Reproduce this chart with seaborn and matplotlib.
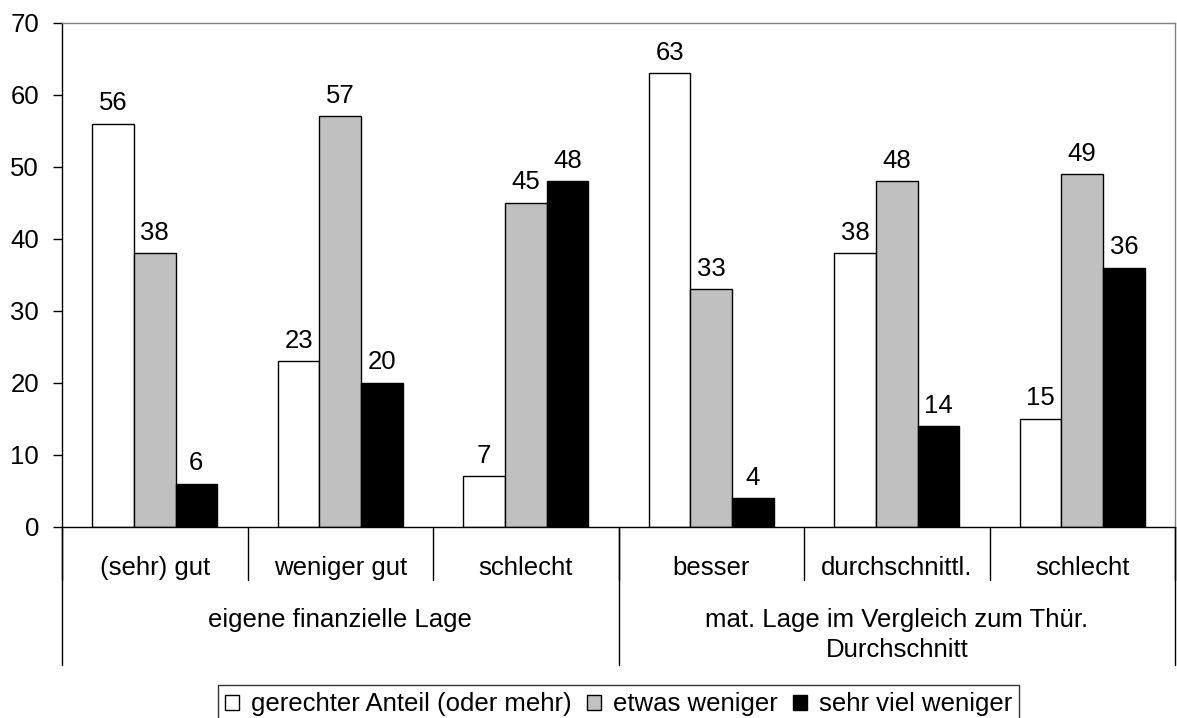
import matplotlib
matplotlib.use("Agg")
import matplotlib.pyplot as plt
import matplotlib.transforms as mtransforms
import seaborn as sns
import pandas as pd

categories = ["(sehr) gut", "weniger gut", "schlecht", "besser", "durchschnittl.", "schlecht"]
groups = ["eigene finanzielle Lage", "mat. Lage im Vergleich zum Thür.\nDurchschnitt"]
group_sizes = [3, 3]
series = ["gerechter Anteil (oder mehr)", "etwas weniger", "sehr viel weniger"]
gerecht = [56, 23, 7, 63, 38, 15]
etwas = [38, 57, 45, 33, 48, 49]
sehr_viel = [6, 20, 48, 4, 14, 36]
colors = ["#ffffff", "#c0c0c0", "#000000"]

keys = [f"{i}" for i in range(len(categories))]
rows = []
for s, vals in zip(series, [gerecht, etwas, sehr_viel]):
    for k, v in zip(keys, vals):
        rows.append({"cat": k, "series": s, "value": v})
df = pd.DataFrame(rows)

sns.set_style("white")
plt.rcParams["font.family"] = ["Liberation Sans", "DejaVu Sans"]
for k in ["text.color", "axes.labelcolor", "xtick.color", "ytick.color"]:
    plt.rcParams[k] = "black"

FS = 18.5
W, H = 1177, 718
fig = plt.figure(figsize=(W / 100, H / 100), dpi=100)
ax = fig.add_axes([62 / W, 1 - 526.7 / H, (1175 - 62) / W, (526.7 - 22.7) / H])

sns.barplot(data=df, x="cat", y="value", hue="series", order=keys, hue_order=series,
            palette=colors, edgecolor="black", linewidth=1, width=0.673, ax=ax,
            saturation=1, legend=True)

for cont in ax.containers:
    ax.bar_label(cont, padding=6, fontsize=FS, color="black")

ax.set_ylim(0, 70)
ax.set_yticks(range(0, 71, 10))
ax.tick_params(axis="y", labelsize=FS, length=6.5, width=1, color="black", left=True, pad=10)
ax.set_xticks([])
ax.set_xlabel("")
ax.set_ylabel("")
ax.set_xlim(-0.5, len(categories) - 0.5)
for name, sp in ax.spines.items():
    sp.set_linewidth(1)
    sp.set_color("black" if name in ("left", "bottom") else "#808080")

trans = mtransforms.blended_transform_factory(ax.transData, fig.transFigure)
y0 = 1 - 526.7 / H
y_sub = 1 - 580 / H
y_grp = 1 - 665 / H
for i in range(len(categories) + 1):
    xb = i - 0.5
    ax.plot([xb, xb], [y0, y_sub], transform=trans, color="black", lw=1, clip_on=False)
bounds = [0]
for g in group_sizes:
    bounds.append(bounds[-1] + g)
for b in bounds:
    xb = b - 0.5
    ax.plot([xb, xb], [y0, y_grp], transform=trans, color="black", lw=1, clip_on=False)

for i, c in enumerate(categories):
    ax.text(i, 1 - 575 / H, c, transform=trans, ha="center", va="baseline", fontsize=FS)

for gi, g in enumerate(groups):
    xc = (bounds[gi] + bounds[gi + 1] - 1) / 2
    for li, line in enumerate(g.split("\n")):
        ax.text(xc, 1 - (626.7 + 30 * li) / H, line, transform=trans, ha="center",
                va="baseline", fontsize=FS)

leg = ax.legend(loc="upper center", bbox_to_anchor=(618.5 / W, 1 - 684.7 / H),
                bbox_transform=fig.transFigure, ncol=3, frameon=True, fontsize=FS,
                handlelength=0.55, handleheight=0.55, handletextpad=0.45, columnspacing=0.6,
                borderpad=0.3, borderaxespad=0, fancybox=False)
leg.get_frame().set_edgecolor("black")
leg.get_frame().set_linewidth(1)
leg.set_title(None)

fig.savefig("out.png", dpi=100, facecolor="white")
